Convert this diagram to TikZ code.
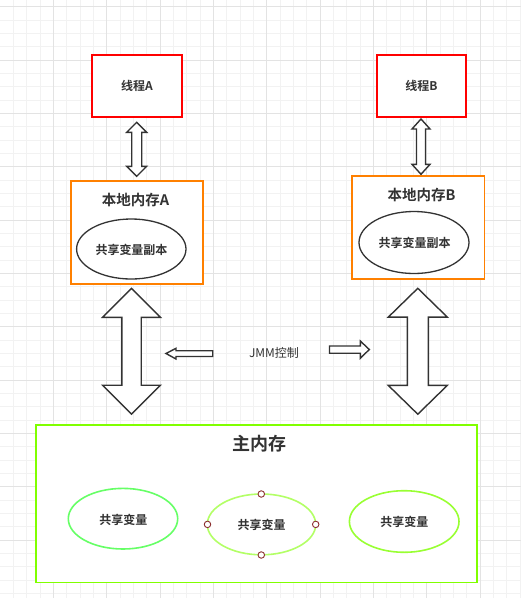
\documentclass[tikz,border=0pt]{standalone}
\usepackage{fontspec}
\setmainfont{Noto Sans CJK SC}[BoldFont={Noto Sans CJK SC Bold}]
\definecolor{txt}{HTML}{333333}
\definecolor{gridminor}{HTML}{F2F2F2}
\definecolor{gridmajor}{HTML}{E3E3E3}
\definecolor{redc}{HTML}{FF0000}
\definecolor{orangec}{HTML}{FF8000}
\definecolor{mainc}{HTML}{80FF00}
\definecolor{ella}{HTML}{66FF66}
\definecolor{ellb}{HTML}{B3FF66}
\definecolor{ellc}{HTML}{99FF33}
\definecolor{handle}{HTML}{8B2E2E}
\newcommand\vdblarrow[6]{% cx, ty, by, half head, half shaft, head length
  \draw[blockarrow] (#1,#2) -- ({#1+#4},{#2+#6}) -- ({#1+#5},{#2+#6}) -- ({#1+#5},{#3-#6})
   -- ({#1+#4},{#3-#6}) -- (#1,#3) -- ({#1-#4},{#3-#6}) -- ({#1-#5},{#3-#6})
   -- ({#1-#5},{#2+#6}) -- ({#1-#4},{#2+#6}) -- cycle;}
\begin{document}
\begin{tikzpicture}[x=1pt,y=-1pt,
  blockarrow/.style={draw=txt,line width=1.4pt,fill=white,line join=miter},
  thread/.style={draw=redc,line width=1.6pt,fill=white},
  local/.style={draw=orangec,line width=1.6pt,fill=white},
  copyell/.style={draw=txt,line width=1.3pt,fill=white},
  varell/.style={line width=1.6pt,fill=white},
  handlept/.style={circle,draw=handle,fill=white,line width=0.9pt,minimum size=6.5pt,inner sep=0pt},
  lbl/.style={text=txt,font=\bfseries\fontsize{12}{14}\selectfont}]
\useasboundingbox (0,0) rectangle (521,598);
\fill[white] (0,0) rectangle (521,598);
% grid
\foreach \k in {1,...,39} \draw[gridminor,line width=0.8pt] ({13.333*\k},0) -- ({13.333*\k},598);
\foreach \k in {0,...,44} \draw[gridminor,line width=0.8pt] (0,{6.667+13.333*\k}) -- (521,{6.667+13.333*\k});
\foreach \k in {1,...,9} \draw[gridmajor,line width=0.9pt] ({53.333*\k},0) -- ({53.333*\k},598);
\foreach \k in {0,...,10} \draw[gridmajor,line width=0.9pt] (0,{6.667+53.333*\k}) -- (521,{6.667+53.333*\k});

% threads
\draw[thread] (92,55) rectangle (182,117);
\node[lbl] (ta) at (137,86) {线程A};
\draw[thread] (377,55) rectangle (466,117);
\node[lbl] (tb) at (421.5,86) {线程B};

% small double arrows
\vdblarrow{136.7}{122.3}{176.3}{10}{5}{10}
\vdblarrow{421}{119}{174.3}{9}{4.5}{10}

% local memories
\draw[local] (71,181) rectangle (203,284);
\node[text=txt,font=\bfseries\fontsize{14.5}{17}\selectfont] (la) at (135.5,199.5) {本地内存A};
\draw[copyell] (131.3,249) ellipse [x radius=54.7,y radius=30];
\node[lbl] (ca) at (131.5,250) {共享变量副本};

\draw[local] (352,176) rectangle (484.3,279);
\node[text=txt,font=\bfseries\fontsize{14.5}{17}\selectfont] (lb) at (421.5,195) {本地内存B};
\draw[copyell] (414,242.5) ellipse [x radius=55,y radius=31];
\node[lbl] (cb) at (414.5,243) {共享变量副本};

% big double arrows
\vdblarrow{131.5}{288.3}{414.2}{29}{9.7}{29}
\vdblarrow{417.8}{288.3}{414.2}{29.5}{10.5}{28.8}

% JMM arrows
\draw[blockarrow] (166,353.5) -- (176,348.3) -- (176,350.7) -- (212.7,350.7) -- (212.7,356.5) -- (176,356.5) -- (176,359) -- cycle;
\draw[blockarrow] (369.3,349.5) -- (360.3,341) -- (360.3,346) -- (329.5,346) -- (329.5,353.2) -- (360.3,353.2) -- (360.3,358.3) -- cycle;
\node[text=txt,font=\fontsize{12}{14}\selectfont] (jmm) at (274,352.5) {JMM控制};

% main memory
\draw[draw=mainc,line width=1.8pt,fill=white] (35.7,425) rectangle (476.7,582.5);
\node[text=txt,font=\bfseries\fontsize{18}{21}\selectfont] (mm) at (259,444) {主内存};
\draw[varell,draw=ella] (123,518.7) ellipse [x radius=54.7,y radius=30.3];
\node[lbl] (v1) at (123.3,519.5) {共享变量};
\draw[varell,draw=ellb] (261.5,524.4) ellipse [x radius=54.2,y radius=30.4];
\node[lbl] (v2) at (261.5,525) {共享变量};
\draw[varell,draw=ellc] (404.2,521.5) ellipse [x radius=54.8,y radius=30.8];
\node[lbl] (v3) at (404.3,522) {共享变量};
\node[handlept] (h1) at (261.3,494) {};
\node[handlept] (h2) at (261.3,555) {};
\node[handlept] (h3) at (207.5,524.4) {};
\node[handlept] (h4) at (315.7,524.4) {};
\end{tikzpicture}
\end{document}
